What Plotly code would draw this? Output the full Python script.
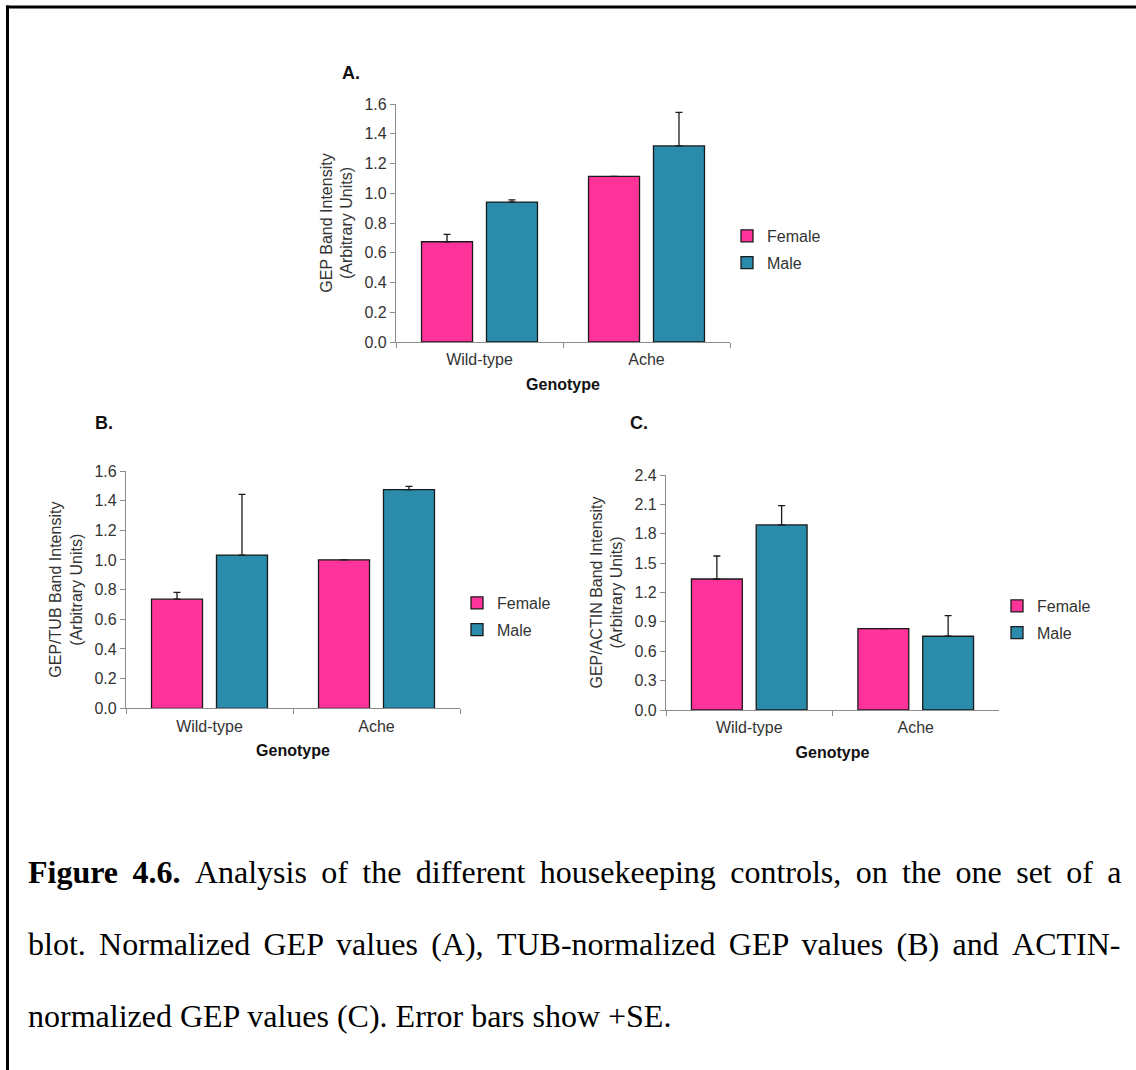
import plotly.graph_objects as go

# ---- data -------------------------------------------------------------
genotypes = ["Wild-type", "Ache"]

# A. normalized GEP band intensity
gep_female = [0.674, 1.114]
gep_female_se = [0.050, 0.0]
gep_male = [0.941, 1.318]
gep_male_se = [0.014, 0.226]

# B. GEP/TUB band intensity
tub_female = [0.736, 1.001]
tub_female_se = [0.045, 0.0]
tub_male = [1.033, 1.474]
tub_male_se = [0.410, 0.022]

# C. GEP/ACTIN band intensity
actin_female = [1.338, 0.831]
actin_female_se = [0.235, 0.0]
actin_male = [1.890, 0.753]
actin_male_se = [0.197, 0.210]

y_ticks_ab = [0.0, 0.2, 0.4, 0.6, 0.8, 1.0, 1.2, 1.4, 1.6]
y_ticks_c = [0.0, 0.3, 0.6, 0.9, 1.2, 1.5, 1.8, 2.1, 2.4]

caption_bold = "Figure 4.6."
caption_lines = [
    "Analysis of the different housekeeping controls, on the one set of a",
    "blot. Normalized GEP values (A), TUB-normalized GEP values (B) and ACTIN-",
    "normalized GEP values (C). Error bars show +SE.",
]

# ---- style ------------------------------------------------------------
W, H = 1136, 1070
FEMALE = "#FF3399"
MALE = "#2A8BAA"
OUTLINE = "#1a1a1a"
AXIS = "#8c8c8c"
SANS = "Liberation Sans, Arial, sans-serif"
SERIF = "Liberation Serif, Times New Roman, serif"


def fx(x):
    return x / W


def fy(y):
    return 1 - y / H


fig = go.Figure()

panels = [
    # axis suffix, legend id, female, female se, male, male se
    ("", "legend", gep_female, gep_female_se, gep_male, gep_male_se),
    ("2", "legend2", tub_female, tub_female_se, tub_male, tub_male_se),
    ("3", "legend3", actin_female, actin_female_se, actin_male, actin_male_se),
]

for suffix, leg, f, fse, m, mse in panels:
    for name, vals, se, color in [("Female", f, fse, FEMALE), ("Male", m, mse, MALE)]:
        fig.add_trace(go.Bar(
            x=genotypes, y=vals, name=name,
            marker=dict(color=color, line=dict(color=OUTLINE, width=1.3)),
            error_y=dict(type="data", symmetric=False, array=se,
                         arrayminus=[0] * len(se), color=OUTLINE,
                         thickness=1.3, width=3.5),
            xaxis="x" + suffix, yaxis="y" + suffix, legend=leg,
            legendgroup=leg + name,
        ))

tick_font = dict(family=SANS, size=16, color="#333333")
title_font = dict(family=SANS, size=16, color="#333333")


def xaxis(domain, anchor):
    return dict(
        domain=[fx(domain[0]), fx(domain[1])], anchor=anchor,
        type="category", showline=True, linecolor=AXIS, linewidth=1.3,
        ticks="outside", tickson="boundaries", ticklen=5, tickcolor=AXIS,
        tickfont=tick_font, ticklabelstandoff=3,
        showgrid=False, zeroline=False, automargin=False,
        title=dict(text="<b>Genotype</b>", font=dict(family=SANS, size=16, color="#111111"),
                   standoff=11),
    )


def yaxis(domain, anchor, rng, ticks, title):
    return dict(
        domain=[fy(domain[1]), fy(domain[0])], anchor=anchor,
        range=rng, tickvals=ticks, ticktext=[f"{t:.1f}" for t in ticks],
        showline=True, linecolor=AXIS, linewidth=1.3,
        ticks="outside", ticklen=5, tickcolor=AXIS,
        tickfont=tick_font, showgrid=False, zeroline=False, automargin=False,
        title=dict(text=title, font=title_font, standoff=7),
    )


def legend(x, y):
    return dict(
        x=fx(x), y=fy(y), xanchor="left", yanchor="top",
        font=dict(family=SANS, size=16, color="#333333"),
        bgcolor="rgba(0,0,0,0)", tracegroupgap=3, itemwidth=30,
    )


fig.update_layout(
    width=W, height=H,
    margin=dict(l=0, r=0, t=0, b=0, pad=0, autoexpand=False),
    paper_bgcolor="white", plot_bgcolor="white",
    barmode="group", bargap=0.222, bargroupgap=0.215,
    showlegend=True,
    xaxis=xaxis((396, 730), "y"),
    yaxis=yaxis((104, 342), "x", [0, 1.6], y_ticks_ab,
                "GEP Band Intensity<br>(Arbitrary Units)"),
    xaxis2=xaxis((126, 460), "y2"),
    yaxis2=yaxis((471, 708.3), "x2", [0, 1.6], y_ticks_ab,
                 "GEP/TUB Band Intensity<br>(Arbitrary Units)"),
    xaxis3=xaxis((666, 999), "y3"),
    yaxis3=yaxis((475, 710), "x3", [0, 2.4], y_ticks_c,
                 "GEP/ACTIN Band Intensity<br>(Arbitrary Units)"),
    legend=legend(727, 219),
    legend2=legend(457, 586),
    legend3=legend(997, 589),
)

# panel letters
for label, x, y in [("A.", 340, 73), ("B.", 93, 423), ("C.", 628, 423)]:
    fig.add_annotation(text=f"<b>{label}</b>", x=fx(x), y=fy(y), xref="paper", yref="paper",
                       xanchor="left", yanchor="middle", showarrow=False,
                       font=dict(family=SANS, size=18, color="#111111"))

# caption: the first two lines are justified, so their word gaps are widened
gap1 = " \u2009"   # space + thin space
gap2 = " \u2006"   # space + six-per-em space
caption_texts = [
    "<b>" + caption_bold.replace(" ", gap1) + "</b>" + gap1 + caption_lines[0].replace(" ", gap1),
    caption_lines[1].replace(" ", gap2),
    caption_lines[2],
]
for i, line in enumerate(caption_texts):
    fig.add_annotation(text=line, x=fx(26), y=fy(872 + 72 * i), xref="paper", yref="paper",
                       xanchor="left", yanchor="middle", showarrow=False,
                       font=dict(family=SERIF, size=32, color="#000000"))

# frame lines along the top and left edges
fig.add_shape(type="line", xref="paper", yref="paper", x0=fx(6), x1=1, y0=fy(7), y1=fy(7),
              line=dict(color="black", width=3))
fig.add_shape(type="line", xref="paper", yref="paper", x0=fx(7.5), x1=fx(7.5), y0=fy(5.5), y1=0,
              line=dict(color="black", width=3))

fig.write_html("out.html")
